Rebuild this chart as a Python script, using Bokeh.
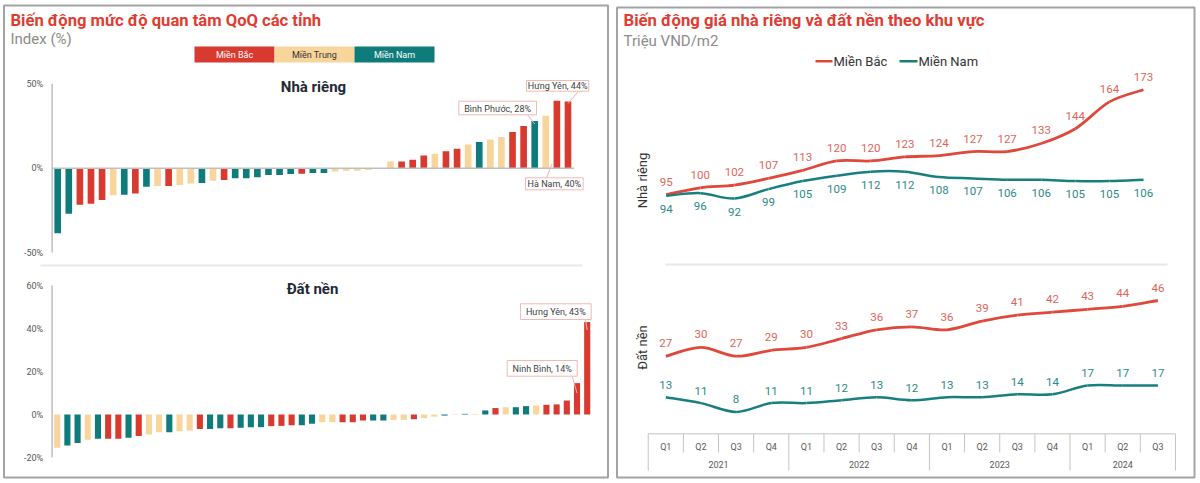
import math
from bokeh.plotting import figure
from bokeh.models import Range1d, ColumnDataSource
from bokeh.embed import file_html
from bokeh.resources import INLINE
from bokeh.core.properties import value

# ---------------- DATA ----------------
region_names = ["Miền Bắc", "Miền Trung", "Miền Nam"]
region_codes = ["B", "T", "N"]

# Nhà riêng: QoQ change in interest by province (%), sorted ascending
nha_rieng_region = ["N", "N", "B", "B", "B", "T", "N", "B", "N", "T",
                    "B", "T", "T", "N", "T", "B", "N", "N", "N", "N",
                    "N", "N", "B", "N", "N", "T", "T", "T", "T", "N",
                    "T", "B", "B", "B", "T", "B", "B", "T", "N", "T",
                    "T", "B", "B", "N", "T", "B", "B"]
nha_rieng_change = [-38.5, -27, -21.7, -21, -18.8, -16, -15.8, -15, -11, -10.5,
                    -10.5, -10, -9, -8.8, -7.5, -7, -6, -6, -5.4, -4,
                    -4, -3.5, -3.3, -2.8, -2.8, -2, -1.5, -1.5, -1, -0.5,
                    4, 4, 5, 7.5, 8.5, 10, 11.5, 14, 15.5, 17,
                    18.5, 21.5, 25, 28, 31, 40, 39.5]
nha_rieng_callouts = [(43, "Bình Phước, 28%"), (46, "Hưng Yên, 44%"), (45, "Hà Nam, 40%")]
nha_rieng_ticks = [50, 0, -50]

# Đất nền
dat_nen_region = ["T", "N", "N", "T", "N", "B", "B", "N", "B", "T",
                  "T", "N", "T", "T", "B", "N", "N", "B", "N", "N",
                  "N", "B", "B", "B", "N", "N", "T", "T", "B", "B",
                  "B", "N", "N", "T", "T", "B", "T", "T", "N", "T",
                  "N", "T", "N", "B", "T", "N", "N", "T", "B", "B",
                  "B", "B", "B"]
dat_nen_change = [-15.5, -14.4, -13.2, -11.8, -11.3, -11.3, -11.3, -10.8, -10, -9.3,
                  -8.2, -8.2, -7.8, -7.4, -6.7, -6.7, -6.4, -6.4, -6.2, -5.9,
                  -5.9, -5.4, -5.3, -5, -5, -4.3, -3.6, -3.6, -3.6, -3.6,
                  -2.8, -2.8, -2.8, -2.5, -2.5, -2.2, -1.7, -1, -0.5, -0.2,
                  0.3, 0.3, 1.9, 3, 3.4, 3.4, 3.9, 4.2, 4.5, 4.7,
                  6.5, 14.6, 43]
dat_nen_callouts = [(52, "Hưng Yên, 43%"), (51, "Ninh Bình, 14%")]
dat_nen_ticks = [60, 40, 20, 0, -20]

# Price series (Triệu VND/m2)
quarters = ["Q1", "Q2", "Q3", "Q4", "Q1", "Q2", "Q3", "Q4",
            "Q1", "Q2", "Q3", "Q4", "Q1", "Q2", "Q3"]
years = ["2021"] * 4 + ["2022"] * 4 + ["2023"] * 4 + ["2024"] * 3
nha_rieng_bac = [95, 100, 102, 107, 113, 120, 120, 123, 124, 127, 127, 133, 144, 164, 173]
nha_rieng_nam = [94, 96, 92, 99, 105, 109, 112, 112, 108, 107, 106, 106, 105, 105, 106]
dat_nen_bac = [27, 30, 27, 29, 30, 33, 36, 37, 36, 39, 41, 42, 43, 44, 46]
dat_nen_nam = [13, 11, 8, 11, 11, 12, 13, 12, 13, 13, 14, 14, 17, 17, 17]

# ---------------- STYLE ----------------
RED = "#D93A2F"
TAN = "#F7D59B"
TEAL = "#0F7C7B"
LINE_RED = "#E0483B"
LINE_TEAL = "#17807E"
LBL_RED = "#E0655B"
LBL_TEAL = "#2C8A88"
TITLE_RED = "#E03C31"
GRAY_TXT = "#8C8C8C"
AX_TXT = "#595959"
FONT = value("Roboto")
color_of = dict(zip(region_codes, [RED, TAN, TEAL]))

W, H = 1200, 483
PX0, PX1, PY_TOP, PY_BOT = 0, W, 0, H

p = figure(width=W, height=H, x_range=Range1d(PX0, PX1), y_range=Range1d(PY_BOT, PY_TOP),
           output_backend="svg", toolbar_location=None, x_axis_type=None, y_axis_type=None,
           min_border=0, outline_line_color=None)
p.background_fill_color = "white"
p.border_fill_color = "white"


def mapper(pa, va, pb, vb):
    k = (pb - pa) / (vb - va)
    return lambda v: pa + (v - va) * k


def xrange_for(pa, va, pb, vb):
    inv = mapper(va, pa, vb, pb)
    return Range1d(inv(PX0), inv(PX1))


def yrange_for(pa, va, pb, vb):
    inv = mapper(va, pa, vb, pb)
    return Range1d(inv(PY_BOT), inv(PY_TOP))


# layout anchors (pixel positions of chart areas)
LT_X = (57.2, 0, 567.5, 46)
LT_Y = (167.7, 0, 83.3, 50)
LB_X = (56.7, 0, 586.7, 52)
LB_Y = (414.0, 0, 285.0, 60)
RT_X = (665.7, 0, 1143.0, 14)
RT_Y = (194.0, 95, 89.3, 173)
RB_X = (665.3, 0, 1157.4, 14)
RB_Y = (355.7, 27, 300.0, 46)

p.extra_x_ranges = {"lt_x": xrange_for(*LT_X), "lb_x": xrange_for(*LB_X),
                    "rt_x": xrange_for(*RT_X), "rb_x": xrange_for(*RB_X)}
p.extra_y_ranges = {"lt_y": yrange_for(*LT_Y), "lb_y": yrange_for(*LB_Y),
                    "rt_y": yrange_for(*RT_Y), "rb_y": yrange_for(*RB_Y)}

lt_px, lt_py = mapper(*LT_X), mapper(*LT_Y)
lb_px, lb_py = mapper(*LB_X), mapper(*LB_Y)


def txt(x, y, t, size, color, align="left", baseline="middle", bold=False, angle=0, **kw):
    p.text(x=x, y=y, text=t, text_font=FONT, text_font_size=size, text_color=color,
           text_align=align, text_baseline=baseline, angle=angle,
           text_font_style="bold" if bold else "normal", **kw)


# ---------------- PANEL FRAMES ----------------
p.quad(left=[3.5, 616.5], right=[607.5, 1194], top=[5, 7], bottom=[477, 477],
       fill_color=None, line_color="#A3A3A3", line_width=2)
# separators
p.segment(x0=[40, 665], x1=[582, 1167], y0=[265, 264], y1=[265, 264],
          line_color="#E8E8E8", line_width=2)

# ---------------- LEFT PANEL ----------------
txt([10], [19.5], ["Biến động mức độ quan tâm QoQ các tỉnh"], "16.6px", TITLE_RED, bold=True)
txt([10], [38.5], ["Index (%)"], "15px", GRAY_TXT)

# region legend
leg_left = [194, 274, 354]
p.quad(left=leg_left, right=[l + 80 for l in leg_left], top=[46] * 3, bottom=[62] * 3,
       fill_color=[RED, TAN, TEAL], line_color=None)
txt([l + 40 for l in leg_left], [54.5] * 3, region_names, "9px",
    ["#FFFFFF", "#333333", "#FFFFFF"], align="center")

txt([313], [86.5], ["Nhà riêng"], "15px", "#1E2A36", align="center", bold=True)
txt([312], [288], ["Đất nền"], "15px", "#1E2A36", align="center", bold=True)


def bar_chart(vals, regs, ticks, xr, yr, baseline):
    n = len(vals)
    src = ColumnDataSource(dict(i=list(range(n)), v=vals, c=[color_of[r] for r in regs]))
    p.vbar(x="i", top="v", bottom=0, width=0.6, fill_color="c", line_color=None,
           source=src, x_range_name=xr, y_range_name=yr)
    p.segment(x0=[-0.5], x1=[-0.5], y0=[min(ticks)], y1=[max(ticks)], line_color="#BFBFBF",
              line_width=1.5, x_range_name=xr, y_range_name=yr)
    if baseline:
        p.segment(x0=[-0.5], x1=[n - 0.45], y0=[0], y1=[0], line_color="#BFBFBF",
                  line_width=1.5, x_range_name=xr, y_range_name=yr)
    p.text(x=[-0.5] * len(ticks), y=ticks, text=[f"{t}%" for t in ticks], x_offset=-9,
           text_font=FONT, text_font_size="9px", text_color=AX_TXT, text_align="right",
           text_baseline="middle", x_range_name=xr, y_range_name=yr)


bar_chart(nha_rieng_change, nha_rieng_region, nha_rieng_ticks, "lt_x", "lt_y", True)
bar_chart(dat_nen_change, dat_nen_region, dat_nen_ticks, "lb_x", "lb_y", False)


def callout(box, text, start, end):
    l, r, t, b = box
    p.segment(x0=[start[0]], y0=[start[1]], x1=[end[0]], y1=[end[1]],
              line_color="#F2B3AD", line_width=1)
    p.quad(left=[l], right=[r], top=[t], bottom=[b], fill_color="white",
           line_color="#F2B8B3", line_width=1)
    txt([(l + r) / 2], [(t + b) / 2 + 0.5], [text], "9px", "#404040", align="center")


v = nha_rieng_change
(i1, t1), (i2, t2), (i3, t3) = nha_rieng_callouts
callout((458.3, 536, 100.7, 114.3), t1, (527, 114.3), (lt_px(i1), lt_py(v[i1]) + 3))
callout((526, 588.3, 80, 90.7), t2, (578, 90.7), (lt_px(i2), lt_py(v[i2]) + 2))
callout((525, 582.7, 177.3, 189.3), t3, (546, 177.3), (lt_px(i3) - 5, lt_py(0) - 4))
v = dat_nen_change
(j1, s1), (j2, s2) = dat_nen_callouts
callout((520, 590.7, 303.3, 319), s1, (585, 319), (lb_px(j1), lb_py(v[j1]) + 8))
callout((506.7, 576.7, 360, 375.7), s2, (571.7, 375.7), (lb_px(j2), lb_py(v[j2]) + 10))

# ---------------- RIGHT PANEL ----------------
txt([623], [20], ["Biến động giá nhà riêng và đất nền theo khu vực"], "16.7px", TITLE_RED, bold=True)
txt([623], [40], ["Triệu VND/m2"], "15px", GRAY_TXT)

p.segment(x0=[815, 899], x1=[832, 917], y0=[60.7, 60.7], y1=[60.7, 60.7],
          line_color=[LINE_RED, LINE_TEAL], line_width=2.5)
txt([833, 918], [61, 61], ["Miền Bắc", "Miền Nam"], "13px", "#333333")

txt([641.5], [180], ["Nhà riêng"], "13px", "#333333", align="center", angle=math.pi / 2)
txt([641.5], [347], ["Đất nền"], "13px", "#333333", align="center", angle=math.pi / 2)


def smooth(ys):
    n = len(ys)
    pts = [(float(i), float(y)) for i, y in enumerate(ys)]
    d = {k: [] for k in ("x0", "y0", "x1", "y1", "cx0", "cy0", "cx1", "cy1")}
    for i in range(n - 1):
        p0 = pts[i - 1] if i > 0 else pts[i]
        p1, p2 = pts[i], pts[i + 1]
        p3 = pts[i + 2] if i + 2 < n else pts[i + 1]
        d["x0"].append(p1[0]); d["y0"].append(p1[1])
        d["x1"].append(p2[0]); d["y1"].append(p2[1])
        d["cx0"].append(p1[0] + (p2[0] - p0[0]) / 6); d["cy0"].append(p1[1] + (p2[1] - p0[1]) / 6)
        d["cx1"].append(p2[0] - (p3[0] - p1[0]) / 6); d["cy1"].append(p2[1] - (p3[1] - p1[1]) / 6)
    return d


def line_series(ys, color, width, lbl_color, offset, xr, yr):
    p.bezier(source=ColumnDataSource(smooth(ys)), x0="x0", y0="y0", x1="x1", y1="y1",
             cx0="cx0", cy0="cy0", cx1="cx1", cy1="cy1", line_color=color, line_width=width,
             x_range_name=xr, y_range_name=yr)
    p.text(x=list(range(len(ys))), y=ys, text=[str(y) for y in ys], y_offset=offset,
           text_font=FONT, text_font_size="11.5px", text_color=lbl_color, text_align="center",
           text_baseline="middle", x_range_name=xr, y_range_name=yr)


line_series(nha_rieng_bac, LINE_RED, 2.8, LBL_RED, -13, "rt_x", "rt_y")
line_series(nha_rieng_nam, LINE_TEAL, 2.5, LBL_TEAL, 13, "rt_x", "rt_y")
line_series(dat_nen_bac, LINE_RED, 2.8, LBL_RED, -13, "rb_x", "rb_y")
line_series(dat_nen_nam, LINE_TEAL, 2.5, LBL_TEAL, -12.5, "rb_x", "rb_y")

# category axis (quarters / years)
n = len(quarters)
AX_TOP, AX_MID, AX_BOT = 433.3, 452, 470
year_bounds = [-0.5] + [i - 0.5 for i in range(1, n) if years[i] != years[i - 1]] + [n - 0.5]
quarter_bounds = [i - 0.5 for i in range(1, n) if years[i] == years[i - 1]]
p.segment(x0=[-0.5], x1=[n - 0.5], y0=[AX_TOP], y1=[AX_TOP], line_color="#C4C4C4",
          line_width=1, x_range_name="rb_x")
p.segment(x0=year_bounds, x1=year_bounds, y0=[AX_TOP] * len(year_bounds),
          y1=[AX_BOT] * len(year_bounds), line_color="#C4C4C4", line_width=1, x_range_name="rb_x")
p.segment(x0=quarter_bounds, x1=quarter_bounds, y0=[AX_TOP] * len(quarter_bounds),
          y1=[AX_MID] * len(quarter_bounds), line_color="#C4C4C4", line_width=1, x_range_name="rb_x")
p.text(x=list(range(n)), y=[446] * n, text=quarters, text_font=FONT, text_font_size="9px",
       text_color=AX_TXT, text_align="center", text_baseline="middle", x_range_name="rb_x")
uniq_years = []
for y in years:
    if y not in uniq_years:
        uniq_years.append(y)
year_centers = [sum(i for i in range(n) if years[i] == y) / years.count(y) for y in uniq_years]
p.text(x=year_centers, y=[464] * len(uniq_years), text=uniq_years, text_font=FONT,
       text_font_size="9px", text_color=AX_TXT, text_align="center", text_baseline="middle",
       x_range_name="rb_x")

open("out.html", "w").write(file_html(p, INLINE))
